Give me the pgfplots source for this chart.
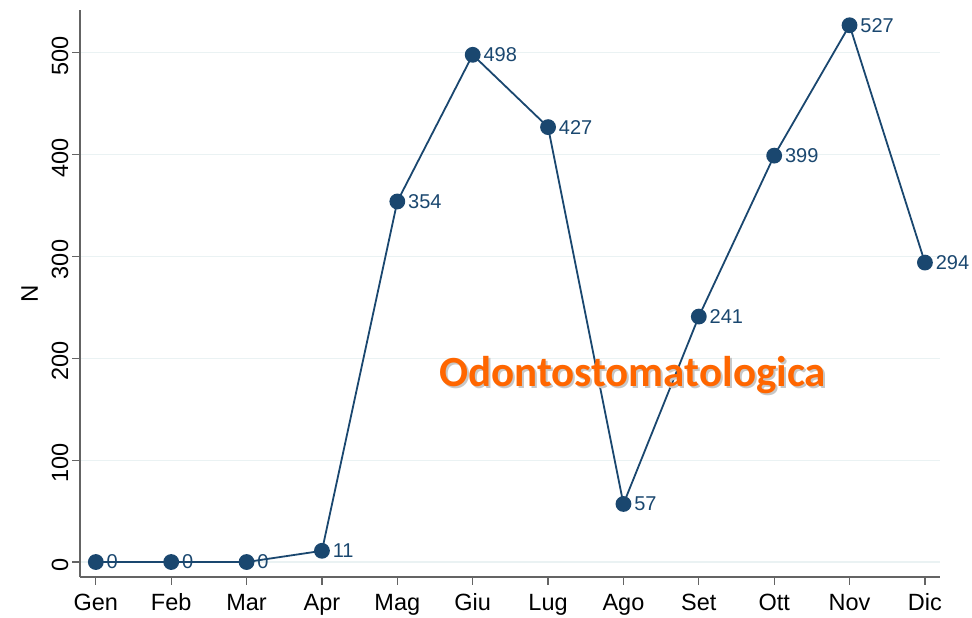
\documentclass[border=0pt]{standalone}
\usepackage{fontspec}
\setmainfont{Liberation Sans}
\newfontfamily\carlito{Carlito}
\usepackage{pgfplots}
\pgfplotsset{compat=1.18}
\definecolor{navy}{RGB}{26,71,111}
\definecolor{gridc}{RGB}{234,242,243}
\definecolor{axc}{RGB}{100,100,100}
\definecolor{orangeT}{RGB}{255,102,0}
\begin{document}
\begin{tikzpicture}
\useasboundingbox (-80pt,-41pt) rectangle (892pt,577pt);
\begin{axis}[
  at={(0,0)}, anchor=south west,
  scale only axis, width=860pt, height=567pt,
  xmin=-0.21, xmax=11.2, ymin=-14.7, ymax=542,
  axis x line*=bottom, axis y line*=left,
  axis line style={axc, line width=1.4pt, -},
  xtick={0,...,11},
  xticklabels={Gen,Feb,Mar,Apr,Mag,Giu,Lug,Ago,Set,Ott,Nov,Dic},
  ytick={0,100,...,500},
  ymajorgrids, grid style={gridc, line width=1.3pt},
  tick style={axc, line width=1.2pt},
  tick align=outside, major tick length=8pt,
  /pgf/number format/assume math mode=true,
  ticklabel style={font=\fontsize{23.5}{27}\selectfont},
  xticklabel style={text height=17pt, text depth=4pt, yshift=-5pt},
  yticklabel style={rotate=90, anchor=south, xshift=-3pt},
  ylabel={N}, ylabel style={font=\fontsize{24}{27}\selectfont, yshift=7pt},
  clip=false,
]
\addplot[navy, line width=1.8pt, mark=*, mark size=7pt, mark options={fill=navy, draw=navy},
  nodes near coords, point meta=explicit symbolic,
  every node near coord/.append style={anchor=west, xshift=9pt, inner sep=1pt, text=navy, font=\fontsize{20}{23}\selectfont}]
  coordinates {
  (0,0) [0] (1,0) [0] (2,0) [0] (3,11) [11] (4,354) [354] (5,498) [498]
  (6,427) [427] (7,57) [57] (8,241) [241] (9,399) [399] (10,527) [527] (11,294) [294]
  };
\node[text=black!22, font=\carlito\bfseries\fontsize{43}{48}\selectfont] at ([xshift=2pt,yshift=-2pt]axis cs:7.12,184) {Odontostomatologica};
\node[text=orangeT, font=\carlito\bfseries\fontsize{43}{48}\selectfont] at (axis cs:7.12,184) {Odontostomatologica};
\end{axis}
\end{tikzpicture}
\end{document}
